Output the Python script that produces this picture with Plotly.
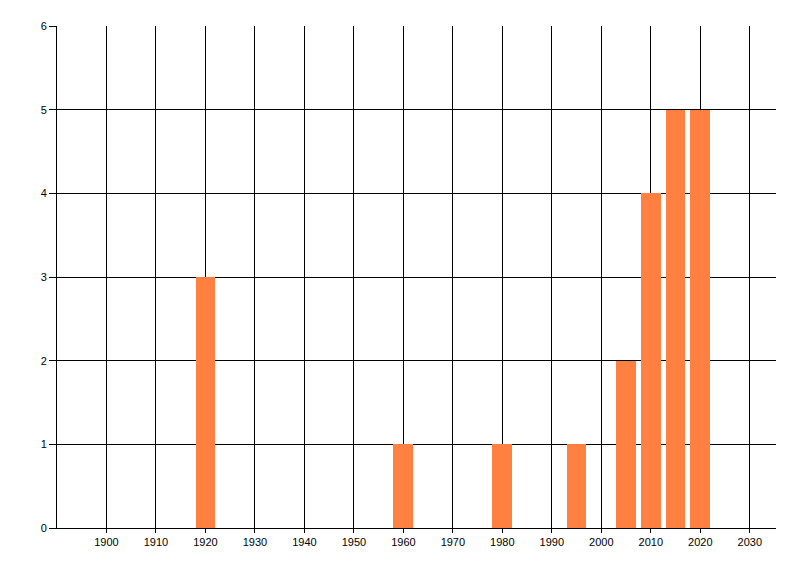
import plotly.graph_objects as go

years = [1920, 1960, 1980, 1995, 2005, 2010, 2015, 2020]
counts = [3, 1, 1, 1, 2, 4, 5, 5]
x_ticks = list(range(1900, 2031, 10))
y_ticks = [0, 1, 2, 3, 4, 5, 6]

fig = go.Figure(go.Bar(x=years, y=counts, width=4, marker=dict(color="#FF8040", line=dict(width=0))))

font = dict(family="Liberation Sans, Arial, sans-serif", size=11, color="#000000")
# page body has an 8px default margin, so the figure is sized/offset accordingly
fig.update_layout(
    width=784, height=560,
    margin=dict(l=49, r=16, t=18, b=40, autoexpand=False),
    paper_bgcolor="white", plot_bgcolor="white",
    showlegend=False,
    font=font,
    bargap=0,
)
fig.update_xaxes(
    range=[1890, 2035.3], tickvals=x_ticks, ticktext=[str(v) for v in x_ticks],
    showgrid=True, gridcolor="black", gridwidth=1,
    showline=True, linecolor="black", linewidth=1,
    ticks="outside", ticklen=4, tickcolor="black", tickwidth=1,
    zeroline=False, tickfont=font, automargin=False,
)
fig.update_yaxes(
    range=[0, 6], tickvals=y_ticks, ticktext=[str(v) for v in y_ticks],
    showgrid=True, gridcolor="black", gridwidth=1,
    showline=True, linecolor="black", linewidth=1,
    ticks="outside", ticklen=7, tickcolor="black", tickwidth=1,
    zeroline=False, tickfont=font, automargin=False,
)
fig.write_html("out.html")
